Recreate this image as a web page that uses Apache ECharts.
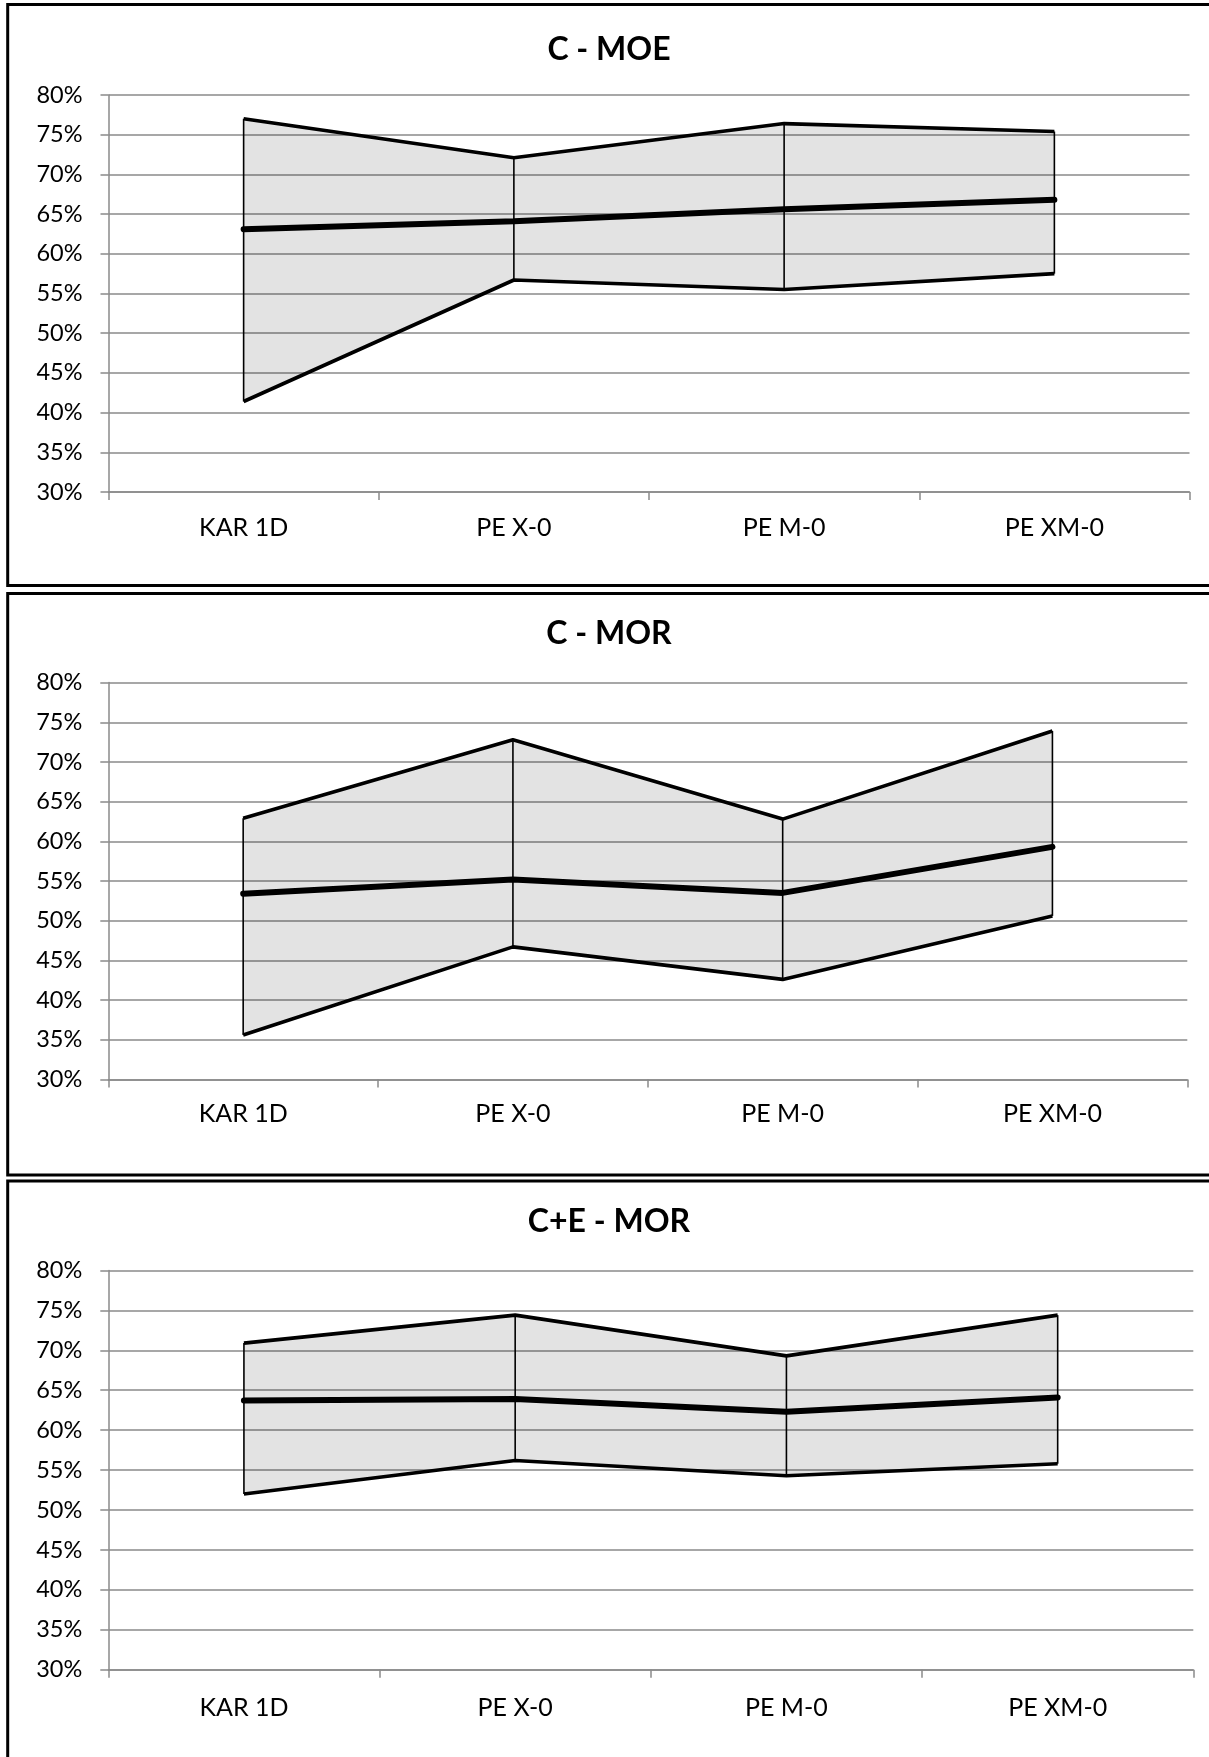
<!DOCTYPE html>
<html>
<head>
<meta charset="utf-8">
<script src="https://cdn.jsdelivr.net/npm/echarts@6/dist/echarts.min.js"></script>
<style>
  html, body { margin: 0; padding: 0; background: #fff; }
  #main { width: 1209px; height: 1757px; }
</style>
</head>
<body>
<div id="main"></div>
<script>
// ---- data ----
const categories = ['KAR 1D', 'PE X-0', 'PE M-0', 'PE XM-0'];
const titles = ['C - MOE', 'C - MOR', 'C+E - MOR'];

const moeLower = [41.4, 56.7, 55.5, 57.5];
const moeMean  = [63.1, 64.1, 65.6, 66.8];
const moeUpper = [77.0, 72.1, 76.4, 75.4];

const morLower = [35.6, 46.7, 42.6, 50.6];
const morMean  = [53.4, 55.2, 53.5, 59.3];
const morUpper = [62.9, 72.8, 62.8, 73.9];

const ceLower = [52.0, 56.2, 54.3, 55.8];
const ceMean  = [63.7, 63.9, 62.3, 64.1];
const ceUpper = [70.9, 74.4, 69.3, 74.4];

const yMin = 30, yMax = 80, yStep = 5;

// ---- layout ----
const panels = [
  { lower: moeLower, mean: moeMean, upper: moeUpper, grid: { left: 108.5, top: 95, width: 1081, height: 397 }, frame: { y: 4.5, h: 581 }, titleY: 49.5, labelMargin: 23 },
  { lower: morLower, mean: morMean, upper: morUpper, grid: { left: 108.3, top: 682.6, width: 1079, height: 396.8 }, frame: { y: 593.5, h: 581.5 }, titleY: 633.5, labelMargin: 22 },
  { lower: ceLower, mean: ceMean, upper: ceUpper, grid: { left: 108.3, top: 1270.4, width: 1085, height: 399.4 }, frame: { y: 1181, h: 600 }, titleY: 1222, labelMargin: 26 }
];

const FONT = 'Lato, "Open Sans", sans-serif';
const GRAY = '#8a8a8a';

const grids = [], xAxes = [], yAxes = [], series = [], graphics = [];

panels.forEach((p, k) => {
  grids.push(Object.assign({ containLabel: false }, p.grid));
  xAxes.push({
    type: 'category', gridIndex: k, data: categories, boundaryGap: true,
    axisLine: { lineStyle: { color: GRAY, width: 1.5 } },
    axisTick: { show: true, inside: false, length: 8, lineStyle: { color: GRAY, width: 1.5 } },
    axisLabel: { color: '#000', fontFamily: FONT, fontSize: 25, lineHeight: 25, margin: p.labelMargin },
    splitLine: { show: false }
  });
  yAxes.push({
    type: 'value', gridIndex: k, min: yMin, max: yMax, interval: yStep,
    axisLine: { show: true, lineStyle: { color: GRAY, width: 1.5 } },
    axisTick: { show: true, inside: false, length: 8, lineStyle: { color: GRAY, width: 1.5 } },
    axisLabel: { color: '#000', fontFamily: FONT, fontSize: 23.5, margin: 26, formatter: '{value}%' },
    splitLine: { show: true, lineStyle: { color: GRAY, width: 1.5 } }
  });

  const lower = p.lower, upper = p.upper;
  // band fill + high-low lines
  series.push({
    type: 'custom', xAxisIndex: k, yAxisIndex: k, z: 2,
    data: categories.map((c, i) => [i, lower[i], upper[i]]),
    renderItem: function (params, api) {
      const i = params.dataIndex;
      const children = [];
      if (i < categories.length - 1) {
        const a = api.coord([i, lower[i]]);
        const b = api.coord([i + 1, lower[i + 1]]);
        const c = api.coord([i + 1, upper[i + 1]]);
        const d = api.coord([i, upper[i]]);
        children.push({
          type: 'polygon', shape: { points: [a, b, c, d] },
          style: { fill: 'rgba(0,0,0,0.11)', stroke: null }, z2: 1
        });
      }
      const lo = api.coord([i, lower[i]]);
      const hi = api.coord([i, upper[i]]);
      children.push({
        type: 'line', shape: { x1: lo[0], y1: lo[1], x2: hi[0], y2: hi[1] },
        style: { stroke: '#000', lineWidth: 1.6 }, z2: 2
      });
      return { type: 'group', children: children };
    }
  });
  series.push({
    type: 'line', xAxisIndex: k, yAxisIndex: k, data: lower, symbol: 'none', z: 3,
    lineStyle: { color: '#000', width: 3.6 }, silent: true
  });
  series.push({
    type: 'line', xAxisIndex: k, yAxisIndex: k, data: upper, symbol: 'none', z: 3,
    lineStyle: { color: '#000', width: 3.6 }, silent: true
  });
  series.push({
    type: 'line', xAxisIndex: k, yAxisIndex: k, data: p.mean, symbol: 'none', z: 4,
    lineStyle: { color: '#000', width: 6, cap: 'round' }, silent: true
  });

  graphics.push({
    type: 'text', x: 609, y: p.titleY, silent: true, z: 100,
    style: { text: titles[k], fontFamily: FONT, fontWeight: 'bold', fontSize: 32, fill: '#000',
             textAlign: 'center', textVerticalAlign: 'middle', verticalAlign: 'middle' }
  });
  graphics.push({
    type: 'rect', shape: { x: 7.7, y: p.frame.y, width: 1240, height: p.frame.h },
    style: { fill: null, stroke: '#000', lineWidth: 3 }, silent: true, z: 100
  });
});

const chart = echarts.init(document.getElementById('main'), null, { renderer: 'canvas' });
chart.setOption({
  animation: false,
  backgroundColor: '#fff',
  grid: grids,
  xAxis: xAxes,
  yAxis: yAxes,
  series: series,
  graphic: graphics
});
</script>
</body>
</html>
